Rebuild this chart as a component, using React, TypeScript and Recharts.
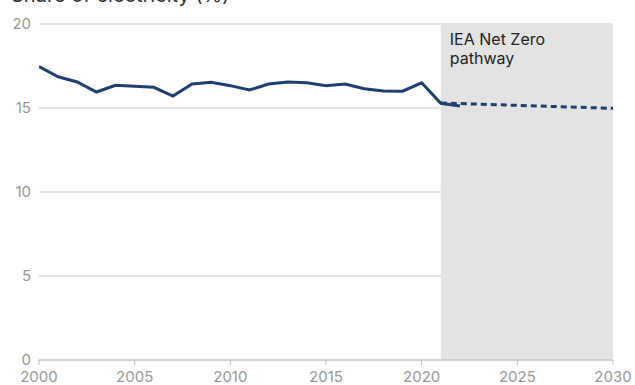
import { CartesianGrid, Line, LineChart, ReferenceArea, XAxis, YAxis } from "recharts";

const years = [
  2000, 2001, 2002, 2003, 2004, 2005, 2006, 2007, 2008, 2009, 2010, 2011,
  2012, 2013, 2014, 2015, 2016, 2017, 2018, 2019, 2020, 2021, 2022,
];
const historical = [
  17.46, 16.86, 16.55, 15.95, 16.35, 16.3, 16.23, 15.71, 16.43, 16.53, 16.33,
  16.07, 16.43, 16.55, 16.5, 16.33, 16.43, 16.15, 16.01, 16.0, 16.5, 15.28, 15.12,
];
const pathwayYears = [2021, 2030];
const pathwayValues = [15.3, 14.98];
const xTicks = [2000, 2005, 2010, 2015, 2020, 2025, 2030];
const yTicks = [0, 5, 10, 15, 20];

const histData = years.map((year, i) => ({ year, value: historical[i] }));
const pathData = pathwayYears.map((year, i) => ({ year, value: pathwayValues[i] }));

const FONT = "Inter, 'Noto Sans', sans-serif";
const NAVY = "#1f3f73";

export default function App() {
  return (
    <div style={{ position: "absolute", left: 0, top: 0, width: 635, height: 385, fontFamily: FONT }}>
      <div
        style={{
          position: "absolute",
          left: 11,
          top: -17,
          fontSize: 20,
          color: "#333",
          whiteSpace: "nowrap",
        }}
      >
        Share of electricity (%)
      </div>
      <LineChart width={635} height={385} margin={{ top: 24, right: 22, left: 0, bottom: 0 }}>
        <ReferenceArea
          x1={2021}
          x2={2030}
          y1={0}
          y2={20}
          fill="#e3e3e3"
          fillOpacity={1}
          stroke="none"
          label={(props: any) => {
            const { viewBox } = props;
            return (
              <text x={viewBox.x + 9} y={viewBox.y + 21} fill="#222" fontSize={16} fontFamily={FONT}>
                <tspan x={viewBox.x + 9} dy={0}>IEA Net Zero</tspan>
                <tspan x={viewBox.x + 9} dy={19}>pathway</tspan>
              </text>
            );
          }}
        />
        <CartesianGrid vertical={false} stroke="#cccccc" strokeWidth={1} />
        <XAxis
          dataKey="year"
          type="number"
          domain={[2000, 2030]}
          ticks={xTicks}
          allowDataOverflow
          height={25}
          tickSize={5}
          tickMargin={6}
          stroke="#bbbbbb"
          tick={{ fill: "#999", fontSize: 15, fontFamily: FONT }}
        />
        <YAxis
          domain={[0, 20]}
          ticks={yTicks}
          width={39}
          axisLine={false}
          tickLine={false}
          tick={{ fill: "#999", fontSize: 15, fontFamily: FONT }}
        />
        <Line
          data={histData}
          dataKey="value"
          type="linear"
          stroke={NAVY}
          strokeWidth={3}
          dot={false}
          isAnimationActive={false}
        />
        <Line
          data={pathData}
          dataKey="value"
          type="linear"
          stroke={NAVY}
          strokeWidth={3}
          strokeDasharray="6 4"
          dot={false}
          isAnimationActive={false}
        />
      </LineChart>
    </div>
  );
}
